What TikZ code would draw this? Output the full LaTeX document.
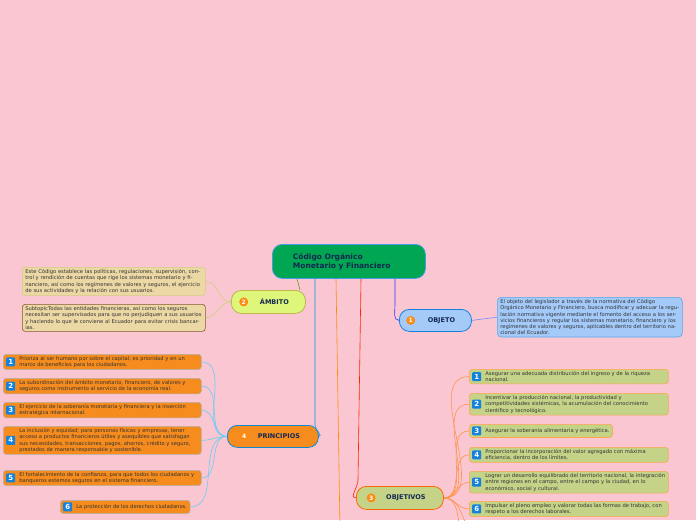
\documentclass[tikz,border=0pt]{standalone}
\usepackage{fontspec}
\setmainfont{DejaVu Sans}
\usepackage{xcolor}
\definecolor{bgpink}{RGB}{249,198,210}
\definecolor{rootgreen}{RGB}{0,166,81}
\definecolor{navy}{RGB}{20,40,80}
\definecolor{limefill}{RGB}{222,246,122}
\definecolor{sandfill}{RGB}{236,216,165}
\definecolor{skyfill}{RGB}{164,202,250}
\definecolor{orangefill}{RGB}{246,140,30}
\definecolor{olivefill}{RGB}{196,211,136}
\definecolor{badgeblue}{RGB}{20,130,220}
\definecolor{badgeorange}{RGB}{250,140,20}
\usetikzlibrary{calc,positioning}
\begin{document}
\begin{tikzpicture}[x=1pt,y=-1pt,
    main/.style={rounded corners=10pt,draw,line width=0.8pt,font=\fontsize{6.5}{7.5}\selectfont\bfseries,text=navy,anchor=north west,inner sep=0pt},
    leaf/.style={rounded corners=3pt,draw,line width=0.6pt,font=\fontsize{5.2}{6.3}\selectfont,anchor=north west,inner xsep=3pt,inner ysep=2pt,text=black!80},
    mbadge/.style={circle,fill=badgeorange,text=white,inner sep=0.6pt,minimum size=9pt,font=\fontsize{6}{6}\selectfont\bfseries},
    bbadge/.style={rounded corners=1pt,fill=badgeblue,text=white,minimum size=9pt,inner sep=0pt,font=\fontsize{7}{7}\selectfont\bfseries},
    link/.style={line width=0.6pt}]
        % Background
        \fill[bgpink] (0,0) rectangle (696,520);
        \useasboundingbox (0,0) rectangle (696,520);
        % Leaf text
        \def\ltext#1#2{\hspace*{13pt}\parbox[c]{#1}{\raggedright #2}}
        % Root
        \node[main,fill=rootgreen,draw=badgeblue!80,minimum width=153pt,minimum height=34pt,align=left,font=\fontsize{7.5}{9}\selectfont\bfseries] (root) at (272,244) {\hspace*{18pt}\parbox{130pt}{Código Orgánico\\Monetario y Financiero}};
        % Main topics
        \node[main,fill=limefill,draw=olive!60,minimum width=74pt,minimum height=23pt] (ambito) at (231,290) {\hspace*{12pt}ÁMBITO};
        \node[mbadge,left=2pt of ambito.center,xshift=-18pt] (bambito) {2};
        \node[main,fill=skyfill,draw=badgeblue,minimum width=72pt,minimum height=22pt] (objeto) at (399,309) {\hspace*{12pt}OBJETO};
        \node[mbadge,left=2pt of objeto.center,xshift=-18pt] (bobjeto) {1};
        \node[main,fill=orangefill,draw=cyan!70!blue,minimum width=91pt,minimum height=22pt] (principios) at (227,425) {\hspace*{12pt}PRINCIPIOS};
        \node[mbadge,left=2pt of principios.center,xshift=-22pt] (bprincipios) {4};
        \node[main,fill=olivefill,draw=orange!80!red,minimum width=87pt,minimum height=23pt] (objetivos) at (356,486) {\hspace*{12pt}OBJETIVOS};
        \node[mbadge,left=2pt of objetivos.center,xshift=-22pt] (bobjetivos) {3};
        % Root connectors
        \coordinate (off) at (340,530);
        \draw[link,olive!70!green] ($(root.south west)+(25,0)$) -- (300,290);
        \draw[link,cyan!80!blue] ($(root.south west)+(43,0)$) -- (315,425) to[out=270,in=0] (principios.east);
        \draw[link,orange!90!yellow] ($(root.south west)+(64,0)$) -- (off);
        \draw[link,red!70!orange] ($(root.south west)+(89,0)$) -- (358,480) to[out=270,in=180] (objetivos.west);
        \draw[link,blue!80] ($(root.south west)+(123,0)$) -- (395,305) to[out=270,in=180] (objeto.west);
        % Ambito
        \node[leaf,fill=sandfill,draw=olive!40,text width=177pt,align=left] (amb1) at (22,267) {Este Código establece las políticas, regulaciones, supervisión, control y rendición de cuentas que rige los sistemas monetario y financiero, así como los regímenes de valores y seguros, el ejercicio de sus actividades y la relación con sus usuarios.};
        \node[leaf,fill=sandfill,draw=brown!70!black,text width=177pt,align=left] (amb2) at (22,304) {SubtopicTodas las entidades financieras, así como los seguros necesitan ser supervisados para que no perjudiquen a sus usuarios y haciendo lo que le conviene al Ecuador para evitar crisis bancarias.};
        \foreach \n in {amb1,amb2}
            \draw[link,olive!40] (ambito.west) to[out=180,in=0] (\n.east);
        % Objeto
        \node[leaf,fill=skyfill,draw=badgeblue!70,text width=179pt,align=left,rounded corners=4pt] (obj1) at (497,297) {El objeto del legislador a través de la normativa del Código Orgánico Monetario y Financiero, busca modificar y adecuar la regulación normativa vigente mediante el fomento del acceso a los servicios financieros y regular los sistemas monetario, financiero y los regímenes de valores y seguros, aplicables dentro del territorio nacional del Ecuador.};
        \draw[link,skyfill!70!blue] (objeto.east) -- (obj1.west);
        % Principios
        \foreach \n/\y/\t in {1/354/{Prioriza al ser humano por sobre el capital; es prioridad y en un marco de beneficios para los ciudadanos.},
            2/378/{La subordinación del ámbito monetario, financiero, de valores y seguros como instrumento al servicio de la economía real.},
            3/402/{El ejercicio de la soberanía monetaria y financiera y la inserción estratégica internacional.},
            4/426/{La inclusión y equidad; para personas físicas y empresas, tener acceso a productos financieros útiles y asequibles que satisfagan sus necesidades, transacciones, pagos, ahorros, crédito y seguro, prestados de manera responsable y sostenible.},
            5/470/{El fortalecimiento de la confianza, para que todos los ciudadanos y banqueros estemos seguros en el sistema financiero.}} {
            \node[leaf,fill=orangefill,draw=gray!60] (pri\n) at (3,\y) {\ltext{179pt}{\t}};
            \node[bbadge,right=3pt of pri\n.west] {\n};
            \draw[link,cyan!60] (principios.west) to[out=180,in=0] (pri\n.east);
        }
        \node[leaf,fill=orangefill,draw=gray!60,inner ysep=4pt] (pri6) at (60,500) {\hspace*{13pt}La protección de los derechos ciudadanos.};
        \node[bbadge,right=3pt of pri6.west] {6};
        \draw[link,cyan!60] (principios.west) to[out=180,in=0] (pri6.east);
        % Objetivos
        \foreach \n/\y/\t in {1/369/{Asegurar una adecuada distribución del ingreso y de la riqueza nacional.},
            2/393/{Incentivar la producción nacional, la productividad y competitividades sistémicas, la acumulación del conocimiento científico y tecnológico.},
            4/447/{Proporcionar la incorporación del valor agregado con máxima eficiencia, dentro de los límites.},
            5/471/{Lograr un desarrollo equilibrado del territorio nacional, la integración entre regiones en el campo, entre el campo y la ciudad, en lo económico, social y cultural.},
            6/501/{Impulsar el pleno empleo y valorar todas las formas de trabajo, con respeto a los derechos laborales.}} {
            \node[leaf,fill=olivefill,draw=orange!70] (ob\n) at (469,\y) {\ltext{180pt}{\t}};
            \node[bbadge,right=3pt of ob\n.west] {\n};
            \draw[link,orange!80!red!70] (objetivos.east) to[out=0,in=180] (ob\n.west);
        }
        \node[leaf,fill=olivefill,draw=orange!70,inner ysep=4pt] (ob3) at (469,424) {\hspace*{13pt}Asegurar la soberanía alimentaria y energética.};
        \node[bbadge,right=3pt of ob3.west] {3};
        \draw[link,orange!80!red!70] (objetivos.east) to[out=0,in=180] (ob3.west);
        \coordinate (offa) at (469,530);
        \coordinate (offb) at (460,530);
        \draw[link,orange!80!red!70] (objetivos.east) to[out=0,in=120] (offa);
        \draw[link,orange!80!red!70] (objetivos.east) to[out=0,in=100] (offb);
\end{tikzpicture}
\end{document}
